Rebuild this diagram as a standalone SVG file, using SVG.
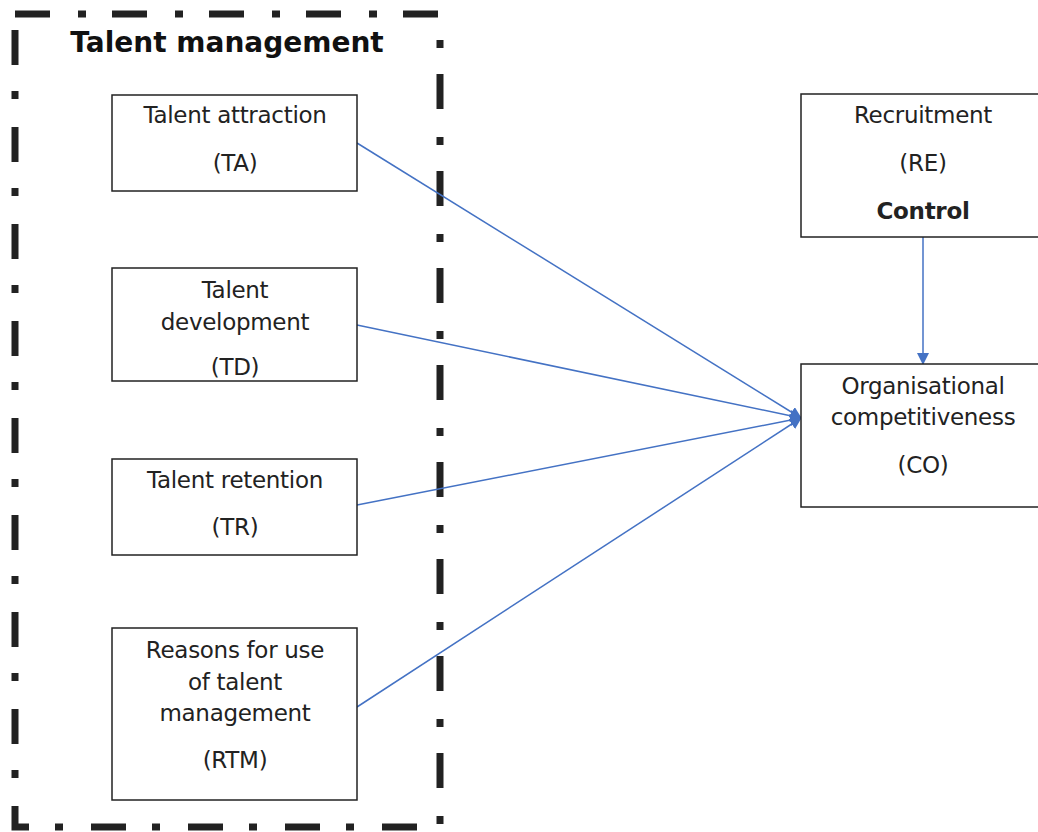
<svg xmlns="http://www.w3.org/2000/svg" width="1038" height="832" viewBox="0 0 1038 832">
<defs>
<marker id="ah" markerWidth="12" markerHeight="12" refX="11" refY="6" orient="auto" markerUnits="userSpaceOnUse">
<path d="M0,0 L12,6 L0,12 z" fill="#4472C4"/>
</marker>
<style>
.box{fill:#fff;stroke:#222;stroke-width:1.5}
.t{font-family:"DejaVu Sans",Verdana,sans-serif;font-size:23px;fill:#222;text-anchor:middle;letter-spacing:-0.3px}
.b{font-weight:bold}
.c{stroke:#4472C4;stroke-width:1.5;fill:none;marker-end:url(#ah)}
</style>
</defs>
<rect width="1038" height="832" fill="#fff"/>
<g id="frame">
<rect x="15" y="14" width="425" height="813" fill="none" stroke="#222" stroke-width="7" stroke-dasharray="35 28 8 26"/>
<text class="t b" x="227" y="52" style="font-size:28px;letter-spacing:0;fill:#111">Talent management</text>
</g>
<g id="connectors">
<line class="c" x1="357" y1="143" x2="801" y2="418"/>
<line class="c" x1="357" y1="325" x2="801" y2="418"/>
<line class="c" x1="357" y1="505" x2="801" y2="418"/>
<line class="c" x1="357" y1="707" x2="801" y2="418"/>
<line class="c" x1="923" y1="237" x2="923" y2="364"/>
</g>
<g id="TA">
<rect class="box" x="112" y="95" width="245" height="96"/>
<text class="t" x="235" y="123">Talent attraction</text>
<text class="t" x="235" y="171">(TA)</text>
</g>
<g id="TD">
<rect class="box" x="112" y="268" width="245" height="113"/>
<text class="t" x="235" y="298">Talent</text>
<text class="t" x="235" y="330">development</text>
<text class="t" x="235" y="375">(TD)</text>
</g>
<g id="TR">
<rect class="box" x="112" y="459" width="245" height="96"/>
<text class="t" x="235" y="488">Talent retention</text>
<text class="t" x="235" y="535">(TR)</text>
</g>
<g id="RTM">
<rect class="box" x="112" y="628" width="245" height="172"/>
<text class="t" x="235" y="658">Reasons for use</text>
<text class="t" x="235" y="690">of talent</text>
<text class="t" x="235" y="721">management</text>
<text class="t" x="235" y="768">(RTM)</text>
</g>
<g id="RE">
<rect class="box" x="801" y="94" width="250" height="143"/>
<text class="t" x="923" y="123">Recruitment</text>
<text class="t" x="923" y="171">(RE)</text>
<text class="t b" x="923" y="219">Control</text>
</g>
<g id="CO">
<rect class="box" x="801" y="364" width="250" height="143"/>
<text class="t" x="923" y="394">Organisational</text>
<text class="t" x="923" y="425">competitiveness</text>
<text class="t" x="923" y="473">(CO)</text>
</g>
</svg>
